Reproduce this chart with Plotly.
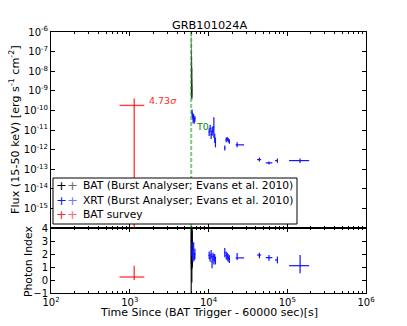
import plotly.graph_objects as go

FONT = "DejaVu Sans"

# ---------------- text ----------------
title_text = "GRB101024A"
x_title = "Time Since (BAT Trigger - 60000 sec)[s]"
flux_title = "Flux (15-50 keV) [erg s<sup>-1</sup> cm<sup>-2</sup>]"
index_title = "Photon Index"
legend_labels = ["BAT (Burst Analyser; Evans et al. 2010)",
                 "XRT (Burst Analyser; Evans et al. 2010)",
                 "BAT survey"]
sigma_label = "4.73<i>σ</i>"
t0_label = "T0"

# ---------------- ticks ----------------
x_tick_exps = [2, 3, 4, 5, 6]
flux_tick_exps = [-6, -7, -8, -9, -10, -11, -12, -13, -14, -15]
index_ticks = [-1, 0, 1, 2, 3, 4]

t0 = 6030

# ---------------- BAT (Burst Analyser) ----------------
bat_time = [6040, 6065, 6090, 6115, 6140, 6165, 6190, 6215]
bat_time_lo = [6030, 6052, 6078, 6103, 6128, 6153, 6178, 6203]
bat_time_hi = [6052, 6078, 6103, 6128, 6153, 6178, 6203, 6228]
bat_flux = [1.0e-9, 8.0e-10, 1.3e-9, 6.0e-10, 9.0e-10, 5.0e-10, 7.0e-10, 1.1e-9]
bat_flux_lo = [4.5e-10, 4.0e-10, 6.0e-10, 3.8e-10, 4.2e-10, 3.5e-10, 4.0e-10, 5.0e-10]
bat_flux_hi = [1.2e-6, 3.0e-7, 1.0e-7, 2.0e-8, 5.0e-8, 4.0e-9, 2.0e-9, 1.5e-8]
bat_index = [2.5, 3.0, 2.0, 1.8, 2.2, 2.8, 1.5, 2.4]
bat_index_lo = [-1.5, 1.2, 0.8, 1.0, -0.2, 1.5, 0.9, 1.1]
bat_index_hi = [4.5, 4.5, 3.5, 3.0, 4.2, 4.5, 2.4, 3.8]

# ---------------- XRT (Burst Analyser) ----------------
xrt_time = [6180, 6280, 6380, 6480, 6600, 6720,
            10200, 10500, 10800, 11100, 11400, 11700, 12000, 12250,
            16100, 16800, 17300, 17800, 18400,
            23100, 44300, 58600, 75000, 145600]
xrt_time_lo = [6120, 6240, 6330, 6430, 6540, 6660,
               10050, 10350, 10650, 10950, 11250, 11550, 11850, 12150,
               15900, 16500, 17100, 17500, 18100,
               22100, 41400, 53200, 70000, 105500]
xrt_time_hi = [6240, 6330, 6430, 6540, 6660, 6790,
               10350, 10650, 10950, 11250, 11550, 11850, 12150, 12350,
               16300, 17100, 17500, 18100, 18700,
               28300, 46600, 64700, 75500, 189700]
xrt_flux = [8.0e-11, 5.5e-11, 3.5e-11, 4.5e-11, 3.0e-11, 3.8e-11,
            8.0e-12, 1.2e-11, 6.0e-12, 9.0e-12, 1.0e-11, 1.3e-11, 4.0e-12, 2.5e-12,
            1.2e-12, 3.2e-12, 3.6e-12, 3.0e-12, 2.6e-12,
            1.75e-12, 3.1e-13, 2.1e-13, 2.75e-13, 2.75e-13]
xrt_flux_lo = [5.0e-11, 3.8e-11, 2.2e-11, 3.0e-11, 2.1e-11, 2.6e-11,
               5.0e-12, 8.0e-12, 3.5e-12, 5.0e-12, 6.0e-12, 4.0e-12, 2.2e-12, 1.3e-12,
               0.9e-12, 2.4e-12, 2.8e-12, 2.3e-12, 2.0e-12,
               1.3e-12, 2.5e-13, 1.75e-13, 2.1e-13, 2.1e-13]
xrt_flux_hi = [1.1e-10, 7.5e-11, 5.0e-11, 6.5e-11, 4.2e-11, 5.2e-11,
               1.2e-11, 1.8e-11, 9.0e-12, 1.4e-11, 1.6e-11, 4.5e-11, 6.5e-12, 4.0e-12,
               1.6e-12, 4.2e-12, 4.4e-12, 3.9e-12, 3.4e-12,
               2.4e-12, 3.9e-13, 2.5e-13, 3.5e-13, 3.5e-13]
xrt_index = [2.3, 1.9, 1.7, 2.4, 1.8, 2.0,
             1.9, 1.7, 2.0, 1.4, 1.8, 1.6, 1.7, 1.5,
             2.1, 1.9, 1.8, 1.7, 1.6,
             1.7, 1.92, 1.72, 1.54, 1.1]
xrt_index_lo = [1.8, 1.5, 1.4, 1.9, 1.5, 1.6,
                1.6, 1.4, 1.7, 0.9, 1.5, 1.2, 1.4, 1.2,
                1.75, 1.6, 1.5, 1.4, 1.3,
                1.54, 1.67, 1.48, 1.28, 0.52]
xrt_index_hi = [2.9, 2.3, 2.0, 2.9, 2.1, 2.4,
                2.2, 2.0, 2.3, 1.9, 2.1, 2.0, 2.0, 1.8,
                2.46, 2.2, 2.1, 2.0, 1.9,
                2.08, 2.1, 1.92, 1.8, 1.92]

# ---------------- BAT survey ----------------
svy_time = [1140]
svy_time_lo = [741]
svy_time_hi = [1531]
svy_flux = [1.8e-10]
svy_flux_lo = [1e-20]
svy_flux_hi = [4.0e-10]
svy_index = [0.23]
svy_index_lo = [0.0]
svy_index_hi = [1.1]

BLACK = "rgba(0,0,0,0.4)"
BLUE = "rgb(20,20,255)"
RED = "rgba(255,0,0,0.75)"
GREEN = "rgba(0,150,0,0.5)"


def diff(a, b):
    return [x - y for x, y in zip(a, b)]


def err_trace(t, tlo, thi, v, vlo, vhi, color, xa, ya, width=1.2):
    return go.Scatter(
        x=t, y=v, mode="markers", xaxis=xa, yaxis=ya,
        marker=dict(size=1, color=color),
        error_x=dict(type="data", symmetric=False, array=diff(thi, t),
                     arrayminus=diff(t, tlo), color=color, thickness=width, width=0),
        error_y=dict(type="data", symmetric=False, array=diff(vhi, v),
                     arrayminus=diff(v, vlo), color=color, thickness=width, width=0),
        showlegend=False, hoverinfo="skip")


fig = go.Figure()
# top panel (flux)
fig.add_trace(err_trace(bat_time, bat_time_lo, bat_time_hi, bat_flux, bat_flux_lo, bat_flux_hi,
                        BLACK, "x2", "y2", 0.8))
fig.add_trace(err_trace(xrt_time, xrt_time_lo, xrt_time_hi, xrt_flux, xrt_flux_lo, xrt_flux_hi,
                        BLUE, "x2", "y2"))
fig.add_trace(err_trace(svy_time, svy_time_lo, svy_time_hi, svy_flux, svy_flux_lo, svy_flux_hi,
                        RED, "x2", "y2", 1.4))
# bottom panel (photon index)
fig.add_trace(err_trace(bat_time, bat_time_lo, bat_time_hi, bat_index, bat_index_lo, bat_index_hi,
                        "rgba(0,0,0,0.8)", "x", "y", 1.4))
fig.add_trace(err_trace(xrt_time, xrt_time_lo, xrt_time_hi, xrt_index, xrt_index_lo, xrt_index_hi,
                        BLUE, "x", "y"))
fig.add_trace(err_trace(svy_time, svy_time_lo, svy_time_hi, svy_index, svy_index_lo, svy_index_hi,
                        RED, "x", "y", 1.4))

# geometry (page pixels; the page body adds an 8px margin)
OFF = 8
W, H = 407 - 2 * OFF, 326 - 2 * OFF
PL, PR, PT, PB = 51 - OFF, 366 - OFF, 32 - OFF, 293 - OFF
SPLIT = 228 - OFF
split_frac = (PB - SPLIT) / (PB - PT)


def px(xp):
    return (xp - OFF - PL) / (PR - PL)


def py(yp):
    return (PB - (yp - OFF)) / (PB - PT)


x_ticktext = ["10<sup>%d</sup>" % e for e in x_tick_exps]
x_tickvals = [10.0 ** e for e in x_tick_exps]
minor_x = [m * 10.0 ** e for e in range(2, 6) for m in range(2, 10)]

axis_common = dict(showline=True, linecolor="black", linewidth=1, mirror="ticks",
                   ticks="inside", ticklen=4, tickcolor="black", showgrid=False,
                   zeroline=False, automargin=False,
                   tickfont=dict(family=FONT, size=10, color="black"))

fig.update_layout(
    width=W, height=H,
    margin=dict(l=PL, r=W - PR, t=PT, b=H - PB, pad=0, autoexpand=False),
    paper_bgcolor="white", plot_bgcolor="white",
    font=dict(family=FONT, size=10, color="black"),
    showlegend=False,
    xaxis=dict(type="log", range=[2, 6], anchor="y", domain=[0, 1],
               tickvals=x_tickvals, ticktext=x_ticktext,
               minor=dict(tickvals=minor_x, ticks="inside", ticklen=2, tickcolor="black"),
               **axis_common),
    xaxis2=dict(type="log", range=[2, 6], anchor="y2", matches="x", domain=[0, 1],
                tickvals=x_tickvals, showticklabels=False,
                minor=dict(tickvals=minor_x, ticks="inside", ticklen=2, tickcolor="black"),
                **axis_common),
    yaxis=dict(range=[-1, 4], domain=[0, split_frac], anchor="x",
               tickvals=index_ticks, ticktext=[str(v).replace("-", "\u2212") for v in index_ticks],
               **axis_common),
    yaxis2=dict(type="log", range=[-16, -6], domain=[split_frac, 1], anchor="x2",
                tickvals=[10.0 ** e for e in flux_tick_exps],
                ticktext=["10<sup>%d</sup>" % e for e in flux_tick_exps],
                **axis_common),
)

# T0 dashed line (top panel)
fig.add_shape(type="line", xref="x2", yref="y2 domain", x0=t0, x1=t0, y0=0, y1=1,
              line=dict(color=GREEN, width=2, dash="4px,2px"), layer="above")

# legend box
fig.add_shape(type="rect", xref="paper", yref="paper",
              x0=px(53), x1=px(297), y0=py(224), y1=py(178),
              line=dict(color="black", width=1), fillcolor="white", layer="above")

ann = []
leg_y = [185, 200, 214]
leg_cols = [("black", "rgb(110,110,110)"), (BLUE, "rgb(120,120,255)"), ("rgb(255,40,40)", "rgb(255,110,110)")]
for yy, lab, (c1, c2) in zip(leg_y, legend_labels, leg_cols):
    ann.append(dict(xref="paper", yref="paper", x=px(61), y=py(yy), text="+",
                    showarrow=False, xanchor="center", yanchor="middle",
                    font=dict(family=FONT, size=13, color=c1)))
    ann.append(dict(xref="paper", yref="paper", x=px(72), y=py(yy), text="+",
                    showarrow=False, xanchor="center", yanchor="middle",
                    font=dict(family=FONT, size=13, color=c2)))
    ann.append(dict(xref="paper", yref="paper", x=px(81), y=py(yy), text=lab,
                    showarrow=False, xanchor="left", yanchor="middle",
                    font=dict(family=FONT, size=10.7, color="black")))

ann += [
    dict(xref="paper", yref="paper", x=px(209), y=py(25), text=title_text, showarrow=False,
         xanchor="center", yanchor="middle", font=dict(family=FONT, size=11.3, color="black")),
    dict(xref="paper", yref="paper", x=px(209), y=py(312.5), text=x_title, showarrow=False,
         xanchor="center", yanchor="middle", font=dict(family=FONT, size=11, color="black")),
    dict(xref="paper", yref="paper", x=px(15), y=py(130), text=flux_title, showarrow=False,
         textangle=-90, xanchor="center", yanchor="middle",
         font=dict(family=FONT, size=11.2, color="black")),
    dict(xref="paper", yref="paper", x=px(28), y=py(262), text=index_title, showarrow=False,
         textangle=-90, xanchor="center", yanchor="middle",
         font=dict(family=FONT, size=10.8, color="black")),
    dict(xref="paper", yref="paper", x=px(147), y=py(100), text=sigma_label, showarrow=False,
         xanchor="left", yanchor="middle", font=dict(family=FONT, size=9.5, color="rgb(255,40,40)")),
    dict(xref="paper", yref="paper", x=px(194), y=py(127), text=t0_label, showarrow=False,
         xanchor="left", yanchor="middle", font=dict(family=FONT, size=9.5, color="rgb(0,140,0)")),
]
fig.update_layout(annotations=ann)

fig.write_html("out.html")
